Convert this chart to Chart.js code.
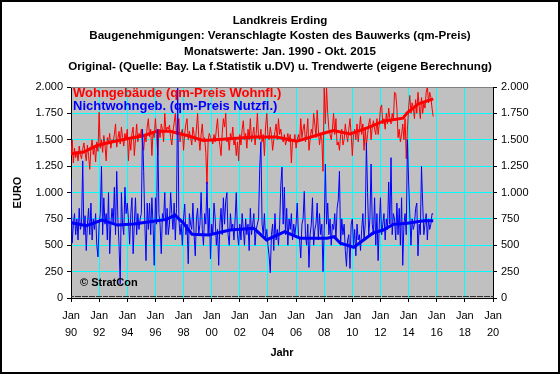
<!DOCTYPE html>
<html>
<head>
<meta charset="utf-8">
<script src="https://cdn.jsdelivr.net/npm/chart.js@4"></script>
<style>
  body { margin: 0; background: #fff; }
  #wrap { width: 560px; height: 374px; }
</style>
</head>
<body>
<div id="wrap"><canvas id="erding"></canvas></div>
<script>
// Monatswerte ab Jan. 1990 (EUR je qm)
var startYear = 1990;

var wohnRaw = [
  1350, 1500, 1280, 1420, 1330, 1390, 1300, 1440, 1360, 1320, 1410, 1470,
  1380, 1300, 1450, 1350, 1220, 1420, 1500, 1360, 1440, 1290, 1480, 1390,
  1760, 1420, 1500, 1380, 1540, 1450, 1300, 1520, 1470, 1560, 1420, 1500,
  1480, 1550, 1650, 1430, 1510, 1580, 1460, 1620, 1520, 1440, 1560, 1500,
  1600, 1300, 1520, 1400, 1560, 1620, 1350, 1500, 1650, 1480, 1560, 1520,
  1600, 1450, 1400, 1550, 1480, 1620, 1700, 1530, 1600, 1350, 1580, 1520,
  1700, 1550, 1350, 1600, 1520, 1650, 1600, 1480, 1750, 1580, 1620, 1600,
  1640, 1520, 1450, 1580, 1660, 1750, 1550, 1620, 1700, 1480, 1560, 1600,
  1400, 1560, 1650, 1700, 1500, 1580, 1520, 1450, 1620, 1550, 1480, 1600,
  1750, 1520, 1400, 1550, 1650, 1480, 1520, 1380, 1080, 1500, 1560, 1520,
  1500, 1460, 1550, 1480, 1600, 1700, 1520, 1450, 1350, 1560, 1700, 1620,
  1750, 1480, 1520, 1400, 1560, 1500, 1620, 1450, 1500, 1350, 1480, 1300,
  1550, 1450, 1600, 1680, 1500, 1560, 1420, 1600, 1500, 1700, 1480, 1550,
  1620, 1450, 1560, 1750, 1520, 1500, 1600, 1480, 1550, 1350, 1620, 1750,
  1550, 1500, 1620, 1550, 1400, 1500, 1580, 1650, 1500, 1700, 1550, 1600,
  1520, 1480, 1550, 1450, 1500, 1560, 1480, 1550, 1280, 1500, 1480, 1550,
  1420, 1500, 1550, 1480, 1700, 1520, 1600, 1650, 1480, 1550, 1700, 1400,
  1500, 1600, 1550, 1750, 1650, 1520, 1780, 1600, 1450, 1550, 1500, 1200,
  2000, 1650, 2000, 1750, 1600, 1550, 1500, 1600, 1750, 1550, 1700, 1450,
  1480, 1400, 1550, 1600, 1450, 1500, 1650, 1550, 1480, 1600, 1700, 1550,
  1350, 1550, 1600, 1500, 1650, 1480, 1600, 1720, 1550, 1650, 1400, 1600,
  1450, 1550, 1650, 1700, 1500, 1620, 1680, 1600, 1550, 1700, 1550, 1650,
  1800, 1830, 1650, 1700, 1600, 1750, 1650, 1800, 1700, 1650, 1750, 1680,
  1950, 1940, 1800, 1520, 1600, 1480, 1550, 1650, 1500, 1700, 1320, 1600,
  1800, 1920, 1750, 1850, 1800, 1700, 1880, 1750, 1950, 1820, 1700, 1900,
  1750, 1850, 1800, 1950, 2000, 1850, 1950, 1900, 1800, 1720
];

var nichtwohnRaw = [
  1130, 520, 700, 800, 600, 750, 550, 850, 650, 700, 1300, 600,
  780, 450, 700, 850, 600, 900, 550, 750, 650, 800, 500, 390,
  700, 800, 1250, 600, 950, 700, 800, 550, 1000, 420, 700, 850,
  700, 1050, 600, 1200, 750, 500, 135, 1000, 700, 600, 1050, 800,
  900, 750, 510, 800, 950, 420, 700, 950, 600, 800, 650, 750,
  800, 1600, 1200, 700, 355, 900, 650, 900, 600, 950, 700, 310,
  950, 700, 1600, 800, 700, 420, 800, 750, 1000, 600, 850, 600,
  700, 1000, 800, 650, 900, 550, 850, 2000, 750, 600, 700, 500,
  750, 890, 600, 700, 325, 800, 700, 650, 900, 600, 400, 750,
  850, 600, 700, 1000, 650, 500, 800, 700, 1100, 600, 850, 370,
  700, 600, 900, 750, 500, 650, 310, 700, 850, 600, 950, 700,
  920, 1000, 600, 500, 800, 650, 700, 550, 750, 1000, 600, 500,
  700, 550, 800, 650, 500, 750, 600, 700, 450, 850, 600, 700,
  800, 500, 650, 700, 750, 1230, 1480, 700, 600, 800, 550, 650,
  500, 400, 240, 600, 700, 450, 800, 550, 650, 500, 700, 1070,
  1240, 700, 1050, 600, 850, 500, 750, 650, 800, 550, 700, 600,
  700, 900, 600, 550, 380, 700, 750, 1010, 600, 500, 700, 290,
  600, 700, 950, 500, 650, 700, 900, 550, 800, 600, 700, 250,
  650, 1270, 700, 900, 600, 750, 500, 700, 650, 800, 550, 850,
  930, 1200, 500, 750, 600, 700, 450, 300, 550, 600, 280, 700,
  750, 500, 650, 400, 700, 550, 600, 450, 650, 800, 550, 700,
  1470, 1000, 600, 750, 1270, 700, 600, 950, 500, 800, 355, 700,
  950, 600, 700, 800, 550, 750, 650, 1100, 700, 1330, 600, 800,
  750, 550, 900, 600, 850, 500, 950, 310, 700, 800, 600, 1500,
  1110, 800, 500, 750, 650, 700, 850, 900, 400, 700, 600, 1250,
  900, 600, 700, 800, 550, 750, 650, 700, 800, 795
];

var trendJahreW = [1990.0, 1990.9, 1991.85, 1992.8, 1994.0, 1995.2, 1996.1, 1997.05, 1998.25, 1999.4,
  2001.3, 2003.0, 2004.6, 2006.05, 2007.95, 2008.65, 2009.85, 2011.2, 2012.2, 2013.6, 2013.9, 2014.7, 2015.75];
var trendW = [1368, 1383, 1446, 1477, 1509, 1540, 1581, 1581, 1540, 1493,
  1509, 1525, 1525, 1487, 1562, 1588, 1555, 1619, 1676, 1705, 1755, 1840, 1887];

var trendJahreN = [1990.0, 1991.1, 1992.2, 1993.3, 1994.45, 1995.6, 1996.8, 1997.4, 1998.0, 1998.6, 1999.8,
  2001.3, 2003.0, 2003.9, 2005.2, 2006.3, 2008.2, 2008.7, 2009.15, 2010.1, 2010.8, 2011.5, 2012.2, 2012.9,
  2013.9, 2015.1, 2015.75];
var trendN = [713, 685, 738, 691, 701, 723, 745, 786, 708, 604, 597,
  644, 660, 550, 628, 566, 566, 581, 519, 481, 550, 619, 644, 698,
  708, 732, 732];

var titel = [
  'Landkreis Erding',
  'Baugenehmigungen: Veranschlagte Kosten des Bauwerks (qm-Preis)',
  'Monatswerte: Jan. 1990 - Okt. 2015',
  'Original- (Quelle: Bay. La f.Statistik u.DV) u. Trendwerte (eigene Berechnung)'
];
var legendeW = 'Wohngebäude (qm-Preis Wohnfl.)';
var legendeN = 'Nichtwohngeb. (qm-Preis Nutzfl.)';

var schrift = "'Liberation Sans', Arial, sans-serif";

function monatlich(werte) {
  return werte.map(function (v, i) { return { x: startYear + i / 12, y: v }; });
}
function punkte(jahre, werte) {
  return jahre.map(function (j, i) { return { x: j, y: werte[i] }; });
}
function euro(v) {
  if (v >= 1000) {
    return Math.floor(v / 1000) + '.' + String(v % 1000).padStart(3, '0');
  }
  return String(v);
}

// Hintergrund, Beschriftung im Diagramm, Rahmen
var deko = {
  id: 'deko',
  beforeDraw: function (chart) {
    var c = chart.ctx, a = chart.chartArea;
    c.save();
    c.fillStyle = '#C0C0C0';
    c.fillRect(a.left, a.top, a.right - a.left, a.bottom - a.top);
    c.restore();
  },
  afterDatasetsDraw: function (chart) {
    var c = chart.ctx, a = chart.chartArea;
    c.save();
    c.textBaseline = 'middle';
    c.textAlign = 'left';
    c.font = 'bold 13px ' + schrift;
    c.fillStyle = '#FF0000';
    c.fillText(legendeW, a.left + 2, a.top + 6);
    c.fillStyle = '#0000FF';
    c.fillText(legendeN, a.left + 2, a.top + 19);
    c.font = 'bold 11px ' + schrift;
    c.fillStyle = '#000';
    c.fillText('© StratCon', a.left + 9, a.bottom - 15);
    c.restore();
  },
  afterDraw: function (chart) {
    var c = chart.ctx, a = chart.chartArea;
    var xs = chart.scales.x;
    c.save();
    c.strokeStyle = '#808080';
    c.lineWidth = 1;
    c.beginPath();
    c.moveTo(a.left, a.top + 0.5);
    c.lineTo(a.right, a.top + 0.5);
    c.stroke();
    // kleine Monatsstriche an der x-Achse
    c.fillStyle = '#303030';
    for (var m = 0; m <= 360; m++) {
      var px = Math.round(xs.getPixelForValue(startYear + m / 12));
      c.fillRect(px, Math.round(a.bottom) - 2, 1, 1);
    }
    c.strokeStyle = '#000';
    c.lineWidth = 2;
    c.strokeRect(1, 1, chart.width - 2, chart.height - 2);
    c.restore();
  }
};

var ctx = document.getElementById('erding');
var chart = new Chart(ctx, {
  type: 'line',
  data: {
    datasets: [
      {
        label: 'Wohngebäude',
        data: monatlich(wohnRaw),
        borderColor: '#FF0000',
        borderWidth: 1,
        order: 4
      },
      {
        label: 'Wohngebäude Trend',
        data: punkte(trendJahreW, trendW),
        borderColor: '#FF0000',
        borderWidth: 3,
        order: 3
      },
      {
        label: 'Nichtwohngeb.',
        data: monatlich(nichtwohnRaw),
        borderColor: '#0000FF',
        borderWidth: 1,
        order: 2
      },
      {
        label: 'Nichtwohngeb. Trend',
        data: punkte(trendJahreN, trendN),
        borderColor: '#0000FF',
        borderWidth: 3,
        order: 1
      }
    ]
  },
  options: {
    responsive: true,
    maintainAspectRatio: false,
    devicePixelRatio: 1,
    animation: false,
    layout: { padding: 0 },
    elements: {
      point: { radius: 0, hoverRadius: 0 },
      line: { tension: 0, fill: false }
    },
    plugins: {
      legend: { display: false },
      tooltip: { enabled: false },
      title: {
        display: true,
        text: titel,
        color: '#000',
        font: { family: schrift, size: 11.6, weight: 'bold', lineHeight: '15.5px' },
        padding: { top: 13, bottom: 12 }
      }
    },
    scales: {
      x: {
        type: 'linear',
        min: 1990,
        max: 2020,
        afterFit: function (s) { s.height = 76; },
        ticks: {
          stepSize: 2,
          autoSkip: false,
          maxRotation: 0,
          padding: 5,
          color: '#000',
          font: { family: schrift, size: 11, lineHeight: '17px' },
          callback: function (v) {
            return ['Jan', String(v % 100).padStart(2, '0')];
          }
        },
        grid: { color: '#00FFFF', tickColor: '#000', tickLength: 4 },
        border: { color: '#000' },
        title: {
          display: true,
          text: 'Jahr',
          color: '#000',
          font: { family: schrift, size: 11, weight: 'bold', lineHeight: '13px' },
          padding: { top: 0, bottom: 15 }
        }
      },
      y: {
        position: 'left',
        min: 0,
        max: 2000,
        afterFit: function (s) { s.width = 71; },
        ticks: {
          stepSize: 250,
          padding: 4,
          color: '#000',
          font: { family: schrift, size: 11 },
          callback: euro
        },
        grid: { color: '#00FFFF', tickColor: '#000', tickLength: 4 },
        border: { color: '#000' },
        title: {
          display: true,
          text: 'EURO',
          color: '#000',
          font: { family: schrift, size: 11, weight: 'bold', lineHeight: '13px' },
          padding: { top: 11, bottom: 0 }
        }
      },
      y2: {
        position: 'right',
        min: 0,
        max: 2000,
        afterFit: function (s) { s.width = 67; },
        ticks: {
          stepSize: 250,
          padding: 4,
          color: '#000',
          font: { family: schrift, size: 11 },
          callback: euro
        },
        grid: { drawOnChartArea: false, tickColor: '#000', tickLength: 4 },
        border: { color: '#000' }
      }
    }
  },
  plugins: [deko]
});
</script>
</body>
</html>
